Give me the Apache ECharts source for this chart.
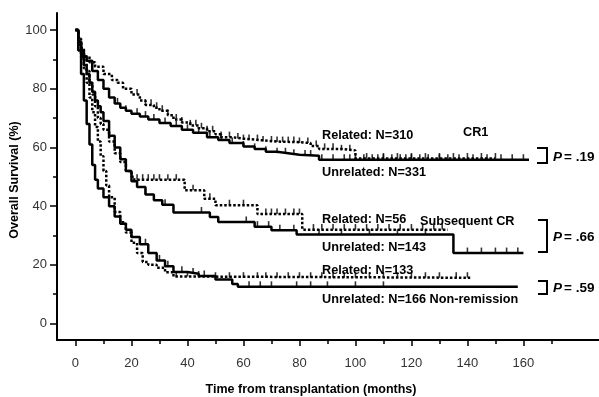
<!DOCTYPE html>
<html>
<head>
<meta charset="utf-8">
<script src="https://cdn.jsdelivr.net/npm/echarts@6/dist/echarts.min.js"></script>
<style>
  html, body { margin: 0; padding: 0; background: #fff; }
  #chart { width: 599px; height: 397px; }
</style>
</head>
<body>
<div id="chart"></div>
<script>
// tick labels
const xLabels = [0, 20, 40, 60, 80, 100, 120, 140, 160];
const xMinorTicks = [10, 30, 50, 70, 90, 110, 130, 150, 170];
const yLabels = [0, 20, 40, 60, 80, 100];
const yMinorTicks = [10, 30, 50, 70, 90];

// CR1
const cr1RelT = [0, 1, 2, 3, 5, 7, 10, 13, 15, 17, 20, 23, 25, 28, 30, 33, 35, 38, 41, 44, 47, 50, 52, 56, 60, 66, 72, 80, 84, 87, 95, 100, 150];
const cr1RelS = [100, 97, 94, 91, 89, 87.5, 85, 83, 82, 80, 78, 76, 74.5, 73.5, 72.5, 71, 69.5, 68.5, 67.5, 66.5, 65.5, 64.5, 63.5, 63, 62.5, 62, 61.8, 61.5, 60.5, 59.5, 59, 56.2, 56.2];
const cr1RelCens = [22, 25, 27, 29, 31, 33, 36, 38, 41, 43, 45, 47, 49, 52, 55, 58, 60, 62, 65, 67, 70, 72, 74, 76, 78, 80, 83, 86, 89, 92, 95, 98, 104, 110, 115, 120, 125, 130, 135, 140, 145, 150];
const cr1UnrT = [0, 1, 2, 3, 4, 6, 8, 10, 12, 14, 16, 18, 20, 23, 26, 30, 34, 38, 42, 47, 51, 55, 60, 64, 68, 72, 76, 80, 87, 162];
const cr1UnrS = [100, 96, 93, 91, 89.5, 86, 83, 80, 77, 75, 73.5, 72.5, 71.5, 70.5, 69.5, 68.3, 67.3, 66, 65, 63.5, 62.5, 61.5, 60.3, 59.5, 58.5, 58, 57.5, 57.2, 55.8, 55.8];
const cr1UnrCens = [15, 18, 22, 25, 28, 32, 36, 40, 44, 48, 52, 56, 60, 64, 68, 72, 75, 78, 82, 84, 88, 92, 96, 98, 100, 103, 106, 108, 110, 113, 116, 118, 120, 123, 126, 130, 133, 137, 142, 147, 152, 156, 160];

// Subsequent CR
const subRelT = [0, 1, 2, 3, 4, 5, 6, 7, 8, 9, 10, 12, 14, 16, 18, 20, 21, 39, 46, 50, 65, 81, 133];
const subRelS = [100, 96, 93, 90, 86, 82, 78, 74, 70, 68, 66, 62, 58, 55, 52, 50, 49, 45.4, 42.5, 40.3, 37.3, 32, 32];
const subRelCens = [22, 24, 26, 28, 30, 33, 36, 42, 48, 55, 60, 68, 70, 72, 75, 78, 80, 85, 88, 92, 96, 100, 104, 108, 112, 116, 120, 124, 128, 131];
const subUnrT = [0, 1, 2, 3, 4, 5, 6, 7, 8, 9, 10, 12, 14, 16, 18, 20, 22, 25, 28, 31, 35, 48, 51, 64, 70, 79, 135, 160];
const subUnrS = [100, 96, 92, 88, 85, 82, 79, 76, 74, 72, 69, 64, 60, 56, 52, 48.5, 46.5, 44, 42, 40.5, 37.8, 36.3, 34.6, 33, 31.8, 30.3, 24, 24];
const subUnrCens = [25, 32, 45, 61, 65, 69, 73, 78, 87, 95, 105, 115, 125, 140, 145, 150, 154, 158];

// Non-remission
const nrRelT = [0, 1, 2, 3, 4, 5, 6, 7, 8, 9, 10, 11, 12, 14, 16, 18, 20, 22, 24, 26, 29, 32, 35, 48, 141];
const nrRelS = [100, 95, 91, 87, 82, 77, 72, 67, 62, 57, 52, 47, 43, 38, 34.5, 31, 27.5, 24, 21, 20, 19, 17.5, 16, 15.6, 15.6];
const nrRelCens = [36, 40, 44, 50, 55, 60, 65, 68, 72, 76, 80, 84, 88, 92, 96, 100, 105, 110, 115, 120, 125, 130, 136, 140];
const nrUnrT = [0, 1, 2, 3, 4, 5, 6, 7, 8, 10, 12, 14, 16, 18, 20, 23, 26, 29, 32, 35, 40, 44, 50, 56, 58, 158];
const nrUnrS = [100, 93, 85, 76, 68, 61, 54, 49, 46, 43, 40, 36.5, 34, 32, 29.5, 27, 24, 21.5, 19.5, 17.6, 17, 16.2, 15, 13.5, 12.5, 12.5];
const nrUnrCens = [20, 25, 30, 33, 38, 42, 46, 62, 66, 70, 79, 84, 90, 100, 110];

function pairs(t, s) {
  return t.map((v, i) => [v, s[i]]);
}
// survival value at time m
function survAt(t, s, m) {
  let v = s[0];
  for (let i = 0; i < t.length; i++) {
    if (t[i] <= m) v = s[i]; else break;
  }
  return v;
}

const dotted = [2.5, 2];
function curve(t, s, dashed) {
  return {
    type: 'line', step: 'end', symbol: 'none', silent: true,
    data: pairs(t, s),
    lineStyle: { color: '#000', width: 2.5, type: dashed ? dotted : 'solid' }
  };
}
function censors(t, s, cens) {
  return {
    type: 'scatter', silent: true,
    symbol: 'rect', symbolSize: [1.6, 5.5], symbolOffset: [0, -2.8],
    itemStyle: { color: '#000' },
    data: cens.map(m => [m, survAt(t, s, m)])
  };
}

const chart = echarts.init(document.getElementById('chart'));
const tickFont = "'Liberation Sans', Arial, sans-serif";
const boldFont = "bold 12.7px 'Liberation Sans', Arial, sans-serif";
const titleFont = "bold 12.5px 'Liberation Sans', Arial, sans-serif";

function label(text, x, y, font) {
  return { type: 'text', x: x, y: y, style: { text: text, font: font || boldFont, fill: '#000', verticalAlign: 'middle' } };
}
function pText(val, x, y) {
  return [
    { type: 'text', x: x, y: y, style: { text: 'P', font: "italic bold 13.5px 'Liberation Sans', Arial, sans-serif", fill: '#000', verticalAlign: 'middle' } },
    { type: 'text', x: x + 11, y: y, style: { text: '= ' + val, font: "bold 13.5px 'Liberation Sans', Arial, sans-serif", fill: '#000', verticalAlign: 'middle' } }
  ];
}
function bracket(x0, x1, y0, y1) {
  return { type: 'polyline', shape: { points: [[x0, y0], [x1, y0], [x1, y1], [x0, y1]] }, style: { stroke: '#000', lineWidth: 2, fill: null } };
}

chart.setOption({
  animation: false,
  backgroundColor: '#fff',
  grid: { left: 57, right: 0, top: 13, bottom: 57, outerBoundsMode: 'none' },
  xAxis: [{
    type: 'value', min: -6.6, max: 187,
    axisLine: { show: true, onZero: false, lineStyle: { color: '#000', width: 2 } },
    axisTick: { show: true, customValues: xLabels, length: 6, lineStyle: { color: '#000', width: 1.5 } },
    axisLabel: { customValues: xLabels, margin: 17, color: '#333', fontSize: 13, fontFamily: tickFont },
    splitLine: { show: false }
  }, {
    type: 'value', min: -6.6, max: 187, position: 'bottom',
    axisLine: { show: false, onZero: false },
    axisTick: { show: true, customValues: xMinorTicks, length: 4, lineStyle: { color: '#000', width: 1.5 } },
    axisLabel: { show: false },
    splitLine: { show: false }
  }],
  yAxis: [{
    type: 'value', min: -5.6, max: 105.8,
    axisLine: { show: true, onZero: false, lineStyle: { color: '#000', width: 2 } },
    axisTick: { show: true, customValues: yLabels, length: 7, lineStyle: { color: '#000', width: 1.5 } },
    axisLabel: { customValues: yLabels, margin: 10, color: '#333', fontSize: 13, fontFamily: tickFont },
    splitLine: { show: false }
  }, {
    type: 'value', min: -5.6, max: 105.8, position: 'left',
    axisLine: { show: false, onZero: false },
    axisTick: { show: true, customValues: yMinorTicks, length: 4, lineStyle: { color: '#000', width: 1.5 } },
    axisLabel: { show: false },
    splitLine: { show: false }
  }],
  series: [
    curve(cr1RelT, cr1RelS, true),
    curve(cr1UnrT, cr1UnrS, false),
    curve(subRelT, subRelS, true),
    curve(subUnrT, subUnrS, false),
    curve(nrRelT, nrRelS, true),
    curve(nrUnrT, nrUnrS, false),
    censors(cr1RelT, cr1RelS, cr1RelCens),
    censors(cr1UnrT, cr1UnrS, cr1UnrCens),
    censors(subRelT, subRelS, subRelCens),
    censors(subUnrT, subUnrS, subUnrCens),
    censors(nrRelT, nrRelS, nrRelCens),
    censors(nrUnrT, nrUnrS, nrUnrCens)
  ],
  graphic: [
    label('Related: N=310', 322, 135),
    label('CR1', 463, 132),
    label('Unrelated: N=331', 322, 172.5),
    label('Related: N=56', 322, 219),
    label('Subsequent CR', 420, 221),
    label('Unrelated: N=143', 322, 247.5),
    label('Related: N=133', 322, 270),
    label('Unrelated: N=166 Non-remission', 322, 299),
    bracket(537, 547, 148, 163),
    bracket(538, 547, 220, 252),
    bracket(538, 547, 281, 294),
    ...pText('.19', 553, 157),
    ...pText('.66', 553, 237),
    ...pText('.59', 553, 288),
    { type: 'text', x: 311, y: 390, style: { text: 'Time from transplantation (months)', font: titleFont, fill: '#000', align: 'center', verticalAlign: 'middle' } },
    { type: 'text', x: 15, y: 180, rotation: Math.PI / 2, style: { text: 'Overall Survival (%)', font: titleFont, fill: '#000', align: 'center', verticalAlign: 'middle' } }
  ]
});
</script>
</body>
</html>
